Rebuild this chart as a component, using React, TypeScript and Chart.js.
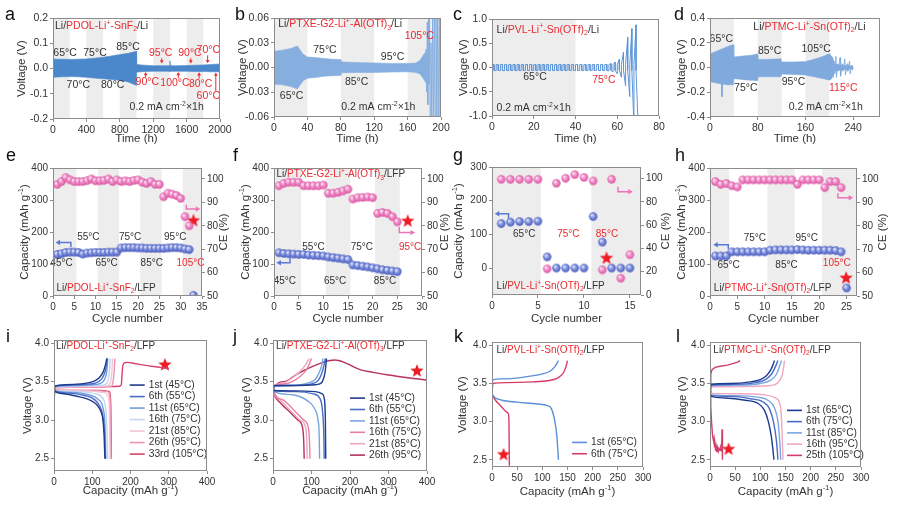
import React, { useEffect, useRef } from "react";
import { Chart, registerables } from "chart.js";

Chart.register(...registerables);

const FONT = "'Liberation Sans', Arial, Helvetica, sans-serif";
const INK = "#333333";
const RED = "#ea2a30";
const AXIS = "#8c8c8c";
const BAND = "#ededed";
const ARROW_BLUE = "#5b78d5";
const ARROW_PINK = "#ee74b8";
const ML = 52, MT = 12, MR = 46, MB = 34;

/* ---------------- panel a : Li/PDOL-Li+-SnF2/Li ---------------- */
const aTime = [0, 50, 100, 200, 300, 400, 500, 600, 700, 800, 900, 950, 1000, 1001, 1050, 1100, 1200, 1300, 1390, 1400, 1410, 1500, 1600, 1700, 1800, 1900, 2000];
const aUpper = [0.038, 0.037, 0.037, 0.036, 0.037, 0.038, 0.041, 0.045, 0.05, 0.055, 0.06, 0.064, 0.068, 0.017, 0.014, 0.013, 0.011, 0.011, 0.011, 0.03, 0.011, 0.011, 0.012, 0.013, 0.014, 0.016, 0.018];
const aLower = [-0.035, -0.034, -0.033, -0.032, -0.033, -0.035, -0.038, -0.041, -0.044, -0.047, -0.053, -0.06, -0.067, -0.015, -0.013, -0.012, -0.011, -0.011, -0.011, -0.012, -0.011, -0.011, -0.011, -0.012, -0.012, -0.013, -0.013];
const aBands = [[0, 200], [400, 600], [800, 1000], [1200, 1400], [1600, 1800]];

/* ---------------- panel b : Li/PTXE-G2-Li+-Al(OTf)3/Li ---------------- */
const bTime = [0, 10, 20, 28, 30, 35, 40, 50, 60, 70, 80, 81, 100, 120, 140, 160, 170, 175, 180, 183];
const bUpper = [0.0196, 0.021, 0.023, 0.026, 0.023, 0.016, 0.0128, 0.012, 0.011, 0.01, 0.0096, 0.0068, 0.006, 0.0056, 0.005, 0.0048, 0.0055, 0.0088, 0.017, 0.02];
const bLower = [-0.0204, -0.021, -0.023, -0.026, -0.023, -0.016, -0.013, -0.012, -0.0105, -0.01, -0.0096, -0.0064, -0.006, -0.006, -0.0055, -0.0052, -0.006, -0.008, -0.015, -0.02];
const bSpikeT = [180, 181, 182, 183, 183.6, 184.2, 185, 185.6, 186.2, 187, 188, 189, 190, 191, 192, 193, 194, 195, 196, 197, 198, 199, 200];
const bSpikeV = [0.015, -0.016, 0.022, -0.03, 0.055, -0.045, 0.07, -0.02, 0.07, -0.07, 0.03, -0.07, 0.07, -0.07, 0.07, -0.07, 0.07, -0.07, 0.07, -0.07, 0.07, -0.07, 0.07];
const bBands = [[0, 40], [80, 120], [160, 200]];

/* ---------------- panel c : Li/PVL-Li+-Sn(OTf)2/Li (peak values per 2 h cycle) ---------------- */
const cUp = [0.06, 0.06, 0.06, 0.06, 0.06, 0.06, 0.06, 0.06, 0.06, 0.06, 0.06, 0.06, 0.06, 0.06, 0.06, 0.06, 0.06, 0.06, 0.06, 0.06, 0.06, 0.06, 0.06, 0.06, 0.06, 0.06, 0.06, 0.065, 0.08, 0.11, 0.17, 0.32, 0.62, 0.8, 0.88];
const cDown = [-0.065, -0.065, -0.065, -0.065, -0.065, -0.065, -0.065, -0.065, -0.065, -0.065, -0.065, -0.065, -0.065, -0.065, -0.065, -0.065, -0.065, -0.065, -0.065, -0.065, -0.065, -0.065, -0.065, -0.065, -0.065, -0.065, -0.065, -0.07, -0.09, -0.13, -0.2, -0.38, -0.6, -1.2, -1.2];
const cBase = 0.06;
const cBands = [[0, 40]];

/* ---------------- panel d : Li/PTMC-Li+-Sn(OTf)2/Li ---------------- */
const dTime = [0, 5, 10, 15, 20, 25, 30, 35, 39, 40, 41, 50, 60, 70, 79, 80, 81, 90, 100, 110, 119, 120, 121, 130, 140, 150, 159, 160, 161, 170, 180, 190, 199, 200, 201, 220, 240];
const dUpper = [0.112, 0.12, 0.13, 0.14, 0.15, 0.16, 0.17, 0.18, 0.184, 0.085, 0.085, 0.09, 0.095, 0.1, 0.11, 0.112, 0.065, 0.065, 0.066, 0.068, 0.07, 0.045, 0.045, 0.045, 0.045, 0.046, 0.048, 0.045, 0.05, 0.06, 0.075, 0.09, 0.11, 0.112, 0.03, 0.02, 0.01];
const dLower = [-0.115, -0.12, -0.125, -0.13, -0.133, -0.137, -0.14, -0.14, -0.141, -0.088, -0.09, -0.095, -0.1, -0.103, -0.107, -0.107, -0.075, -0.075, -0.075, -0.075, -0.075, -0.053, -0.053, -0.055, -0.056, -0.058, -0.06, -0.06, -0.062, -0.07, -0.08, -0.09, -0.1, -0.1, -0.03, -0.02, -0.01];
const dSpikeT = [19.5, 20, 20.5];
const dSpikeV = [-0.13, -0.235, -0.13];
const dTailT = [200, 200.5, 201, 201.5, 202, 202.5, 203, 203.5, 204, 204.5, 205, 205.5, 206, 206.5, 207, 208, 209, 210, 211, 212, 214, 215, 218, 219, 222, 223, 226, 227, 230, 231, 234, 235, 238, 239, 240];
const dTailV = [0.1, -0.1, 0.09, -0.1, 0.1, -0.09, 0.08, -0.09, 0.09, -0.08, 0.08, -0.07, 0.07, -0.08, 0.06, -0.05, 0.05, -0.04, 0.09, -0.08, 0.03, -0.03, 0.08, -0.07, 0.03, -0.03, 0.07, -0.06, 0.03, -0.03, 0.05, -0.05, 0.02, -0.02, 0];
const dBands = [[0, 40], [80, 120], [160, 200]];

/* ---------------- panels e-h : capacity (left) and CE (right) per cycle ---------------- */
const eCap = [130, 132, 136, 137, 137, 136, 131, 134, 135, 136, 136, 136, 137, 137, 137, 150, 151, 151, 151, 150, 150, 149, 149, 149, 149, 149, 150, 151, 151, 150, 147, 145, 2];
const eCE = [97.7, 98.9, 100.6, 99.6, 98.9, 98.9, 98.9, 99.3, 100, 99.2, 99.2, 99.4, 100, 98.9, 99.6, 98.9, 99.2, 98.9, 99.4, 99.6, 98.6, 98.1, 98.9, 97.7, 97.7, 92.4, 93.9, 93.5, 92.9, 91.7, 83.9, 80];
const eStar = [33, 82.6];
const eBands = [[0, 5.5], [10.5, 15.5], [20.5, 25.5], [30.5, 35]];

const fCap = [135, 133, 132, 131, 130, 130, 128, 127, 126, 125, 122, 120, 118, 116, 114, 97, 95, 93, 91, 88, 85, 82, 80, 78, 76];
const fCE = [97.1, 98.1, 98.6, 98.6, 98.6, 97.1, 97.1, 97.1, 97.1, 97.4, 93.9, 93.9, 94.3, 94.9, 95.6, 91.4, 92, 92.1, 92.3, 92, 85.3, 85.7, 85.3, 83.9, 81.7];
const fStar = [27.1, 82.4];
const fBands = [[0, 5.5], [10.5, 15.5], [20.5, 25.5]];

const gCap = [132, 136, 138, 138, 139, 33, 0, 0, 0, 0, 153, 77, 0, 0, 0];
const gCE = [99.4, 99.4, 99.4, 99.4, 99.4, 22.5, 96, 100.3, 103.5, 101, 98, 21.6, 99.4, 14.4, 34.6];
const gStar = [12.45, 32];
const gBands = [[0, 5.3], [10.8, 16.2]];

const hCap = [125, 125, 125, 138, 138, 138, 138, 138, 138, 138, 143, 144, 144, 144, 144, 145, 144, 143, 143, 143, 143, 143, 142, 138, 25];
const hCE = [98.9, 97.7, 98.1, 97.1, 96.6, 99.6, 99.6, 99.6, 99.6, 99.6, 99.6, 99.6, 99.6, 99.6, 99.6, 97.7, 99.6, 99.6, 99.6, 99.6, 96.3, 98.9, 98.9, 96.3];
const hStar = [24.9, 59];
const hBands = [[0, 3.5], [10.5, 15.5], [20.5, 27]];

/* ---------------- panels i-l : charge / discharge profiles [capacity, voltage] ---------------- */
const iC1 = [[0, 3.0], [1.5, 3.44], [30, 3.46], [70, 3.47], [95, 3.49], [110, 3.52], [120, 3.56], [128, 3.62], [133, 3.69], [136, 3.75], [138, 3.8]];
const iC6 = [[0, 3.0], [1.5, 3.44], [40, 3.455], [85, 3.465], [108, 3.48], [120, 3.51], [128, 3.56], [134, 3.64], [137, 3.72], [139, 3.8]];
const iC11 = [[0, 3.0], [1.5, 3.435], [50, 3.45], [100, 3.46], [120, 3.475], [130, 3.51], [136, 3.58], [139, 3.68], [140.5, 3.8]];
const iC16 = [[0, 3.0], [1.5, 3.43], [60, 3.44], [120, 3.45], [136, 3.47], [142, 3.53], [145, 3.63], [147, 3.8]];
const iC21 = [[0, 3.0], [1.5, 3.43], [80, 3.435], [140, 3.445], [148, 3.5], [151, 3.6], [153, 3.8]];
const iC26 = [[0, 3.0], [1.5, 3.425], [100, 3.43], [150, 3.44], [155, 3.52], [157.5, 3.65], [159, 3.8]];
const iC33 = [[0, 3.0], [1.5, 3.42], [100, 3.43], [170, 3.44], [176, 3.46], [178, 3.6], [180, 3.71], [185, 3.745], [192, 3.75], [210, 3.735], [240, 3.71], [270, 3.69], [300, 3.67]];
const iD1 = [[0, 3.41], [3, 3.37], [30, 3.34], [60, 3.31], [90, 3.27], [110, 3.21], [122, 3.12], [128, 3.0], [131, 2.8], [133, 2.5]];
const iD6 = [[0, 3.41], [3, 3.375], [40, 3.35], [80, 3.32], [105, 3.27], [120, 3.18], [128, 3.05], [132, 2.85], [134.5, 2.5]];
const iD11 = [[0, 3.41], [3, 3.38], [50, 3.36], [90, 3.33], [115, 3.27], [128, 3.16], [133, 2.95], [135.5, 2.5]];
const iD16 = [[0, 3.41], [3, 3.385], [60, 3.37], [110, 3.34], [128, 3.28], [136, 3.1], [139, 2.8], [140.5, 2.5]];
const iD21 = [[0, 3.41], [3, 3.39], [80, 3.38], [130, 3.36], [142, 3.3], [145, 3.1], [146.5, 2.5]];
const iD26 = [[0, 3.41], [3, 3.39], [100, 3.385], [140, 3.37], [146, 3.3], [148, 3.0], [149, 2.5]];
const iD33 = [[0, 3.41], [3, 3.39], [120, 3.385], [145, 3.37], [148, 3.25], [149.5, 2.8], [150, 2.5]];
const iLabels = ["1st (45°C)", "6th (55°C)", "11st (65°C)", "16th (75°C)", "21st (85°C)", "26th (95°C)", "33rd (105°C)"];
const iColors = ["#1f3b8f", "#4a6cc4", "#6f9bdc", "#c4d6f0", "#f4c6d5", "#ee93b4", "#d8426b"];
const iStar = [290, 3.73];

const jC1 = [[0, 3.0], [1.5, 3.45], [60, 3.45], [110, 3.46], [125, 3.48], [132, 3.55], [136, 3.65], [139, 3.8]];
const jC6 = [[0, 3.0], [1.5, 3.445], [50, 3.45], [100, 3.47], [118, 3.52], [126, 3.6], [132, 3.7], [136, 3.8]];
const jC11 = [[0, 3.0], [1.5, 3.44], [40, 3.45], [90, 3.48], [110, 3.53], [120, 3.62], [126, 3.7], [130, 3.8]];
const jC16 = [[0, 3.0], [2, 3.44], [30, 3.47], [60, 3.53], [80, 3.61], [92, 3.7], [100, 3.8]];
const jC21 = [[0, 3.0], [2, 3.44], [25, 3.48], [50, 3.55], [70, 3.63], [85, 3.72], [94, 3.8]];
const jC26 = [[0, 3.0], [2, 3.42], [30, 3.5], [60, 3.59], [100, 3.69], [130, 3.75], [160, 3.78], [185, 3.75], [210, 3.69], [230, 3.65], [260, 3.62], [300, 3.585], [350, 3.55], [400, 3.52]];
const jD1 = [[0, 3.41], [3, 3.385], [60, 3.38], [110, 3.37], [128, 3.34], [134, 3.25], [136, 3.0], [137, 2.5]];
const jD6 = [[0, 3.41], [3, 3.38], [60, 3.37], [105, 3.34], [122, 3.28], [129, 3.1], [132, 2.8], [133, 2.5]];
const jD11 = [[0, 3.41], [3, 3.37], [50, 3.33], [90, 3.25], [108, 3.15], [117, 3.0], [120, 2.8], [121, 2.5]];
const jD16 = [[0, 3.41], [3, 3.35], [30, 3.25], [60, 3.1], [80, 3.0], [92, 2.9], [95, 2.7], [96, 2.5]];
const jD21 = [[0, 3.41], [3, 3.35], [25, 3.23], [50, 3.1], [70, 3.0], [85, 2.9], [88, 2.7], [89, 2.5]];
const jD26 = [[0, 3.41], [3, 3.34], [20, 3.22], [45, 3.1], [65, 3.0], [77, 2.9], [80, 2.7], [81, 2.5]];
const jLabels = ["1st (45°C)", "6th (55°C)", "11st (65°C)", "16th (75°C)", "21st (85°C)", "26th (95°C)"];
const jColors = ["#1f3b8f", "#4a6cc4", "#7aa6e0", "#e8809f", "#eca7c0", "#b5325d"];
const jStar = [374, 3.65];

const kC1 = [[0, 3.33], [1.5, 3.55], [20, 3.56], [60, 3.58], [100, 3.625], [115, 3.66], [125, 3.72], [132, 3.8]];
const kD1 = [[0, 3.36], [5, 3.32], [20, 3.28], [50, 3.255], [90, 3.23], [110, 3.21], [118, 3.17], [125, 3.0], [129, 2.8], [132, 2.5]];
const kC6 = [[0, 3.33], [1.5, 3.5], [30, 3.51], [80, 3.52], [110, 3.535], [130, 3.57], [142, 3.64], [147, 3.72], [150, 3.8]];
const kD6 = [[0, 3.36], [3, 3.32], [8, 3.27], [15, 3.22], [22, 3.17], [28, 3.13], [32, 3.11], [33.5, 3.05], [34, 2.8], [34.5, 2.42]];
const kLabels = ["1st (65°C)", "6th (75°C)"];
const kColors = ["#5b8fd9", "#d63c66"];
const kStar = [23, 2.58];

const lC1 = [[0, 3.33], [1.5, 3.49], [40, 3.5], [80, 3.52], [100, 3.55], [112, 3.6], [120, 3.67], [125, 3.74], [128, 3.8]];
const lC6 = [[0, 3.33], [1.5, 3.48], [50, 3.49], [90, 3.51], [110, 3.55], [122, 3.62], [130, 3.72], [135, 3.8]];
const lC11 = [[0, 3.33], [1.5, 3.47], [60, 3.48], [100, 3.5], [120, 3.54], [132, 3.62], [138, 3.72], [142, 3.8]];
const lC16 = [[0, 3.33], [1.5, 3.455], [70, 3.46], [115, 3.47], [135, 3.51], [143, 3.6], [146, 3.7], [148, 3.8]];
const lC25 = [[0, 3.35], [1.5, 3.62], [4, 3.68], [10, 3.71], [20, 3.725], [35, 3.74], [45, 3.76], [55, 3.78], [60, 3.8]];
const lD1 = [[0, 3.36], [3, 3.33], [30, 3.31], [70, 3.28], [95, 3.24], [108, 3.15], [116, 3.0], [122, 2.8], [125.5, 2.6], [127, 2.5]];
const lD6 = [[0, 3.37], [3, 3.34], [40, 3.33], [80, 3.3], [105, 3.26], [118, 3.17], [126, 3.0], [132, 2.75], [135, 2.5]];
const lD11 = [[0, 3.37], [3, 3.35], [50, 3.34], [95, 3.32], [115, 3.28], [128, 3.18], [135, 3.0], [139, 2.7], [140.5, 2.5]];
const lD16 = [[0, 3.38], [3, 3.37], [60, 3.365], [110, 3.35], [130, 3.31], [140, 3.2], [143, 2.9], [145, 2.5]];
const lD25 = [[0, 3.4], [1.5, 3.2], [3, 3.0], [5, 2.82], [7, 2.75], [8, 2.78], [9, 2.66], [10, 2.72], [11, 2.62], [12, 2.68], [13.5, 2.6], [15, 2.66], [16.5, 2.61], [18, 2.65], [20, 2.62], [21.5, 2.66], [23, 2.63], [24, 2.9], [24.6, 2.6], [25, 2.5]];
const lLabels = ["1st (65°C)", "6th (75°C)", "11st (85°C)", "16th (95°C)", "25th (105°C)"];
const lColors = ["#1f3b8f", "#4a6cc4", "#7aa6e0", "#f0a7c0", "#d23f68"];
const lStar = [37, 2.65];

/* ---------------- text helpers ---------------- */
type Seg = { t: string; c: string; k?: "sup" | "sub" };
const K = (t: string): Seg => ({ t, c: INK });
const R = (t: string): Seg => ({ t, c: RED });
const KS = (t: string): Seg => ({ t, c: INK, k: "sup" });
const RS = (t: string): Seg => ({ t, c: RED, k: "sup" });
const RB = (t: string): Seg => ({ t, c: RED, k: "sub" });

const cellTitle = (poly: string, salt: Seg[], end: string): Seg[] => [K("Li/"), R(poly), RS("+"), ...salt, K(end)];
const SNF2 = [R("-SnF"), RB("2")];
const ALOTF3 = [R("-Al(OTf)"), RB("3")];
const SNOTF2 = [R("-Sn(OTf)"), RB("2")];
const CURRENT: Seg[] = [K("0.2 mA cm"), KS("-2"), K("×1h")];
const CAP_TITLE: Seg[] = [K("Capacity (mAh g"), KS("-1"), K(")")];

function fontOf(s: Seg, size: number) {
  return `${s.k ? size * 0.66 : size}px ${FONT}`;
}

function drawRich(ctx: CanvasRenderingContext2D, segs: Seg[], x: number, y: number, align: string, size: number, rot = 0) {
  ctx.save();
  ctx.translate(x, y);
  if (rot) ctx.rotate(rot);
  ctx.textBaseline = "middle";
  ctx.textAlign = "left";
  const widths = segs.map((s) => {
    ctx.font = fontOf(s, size);
    return ctx.measureText(s.t).width;
  });
  const total = widths.reduce((a, b) => a + b, 0);
  let cx = align === "center" ? -total / 2 : align === "right" ? -total : 0;
  segs.forEach((s, i) => {
    ctx.font = fontOf(s, size);
    ctx.fillStyle = s.c;
    const dy = s.k === "sup" ? -size * 0.33 : s.k === "sub" ? size * 0.3 : 0;
    ctx.fillText(s.t, cx, dy);
    cx += widths[i];
  });
  ctx.restore();
}

function drawArrow(ctx: CanvasRenderingContext2D, pts: number[][], color: string, head: number, lw: number) {
  ctx.save();
  ctx.strokeStyle = color;
  ctx.fillStyle = color;
  ctx.lineWidth = lw;
  const n = pts.length;
  const [x1, y1] = pts[n - 1];
  const [x0, y0] = pts[n - 2];
  const len = Math.hypot(x1 - x0, y1 - y0) || 1;
  const ux = (x1 - x0) / len, uy = (y1 - y0) / len;
  ctx.beginPath();
  ctx.moveTo(pts[0][0], pts[0][1]);
  for (let i = 1; i < n - 1; i++) ctx.lineTo(pts[i][0], pts[i][1]);
  ctx.lineTo(x1 - ux * head * 0.8, y1 - uy * head * 0.8);
  ctx.stroke();
  ctx.beginPath();
  ctx.moveTo(x1, y1);
  ctx.lineTo(x1 - ux * head - uy * head * 0.6, y1 - uy * head + ux * head * 0.6);
  ctx.lineTo(x1 - ux * head + uy * head * 0.6, y1 - uy * head - ux * head * 0.6);
  ctx.closePath();
  ctx.fill();
  ctx.restore();
}

/* ---------------- marker images ---------------- */
function makeSphere(c0: string, c1: string, c2: string, r: number) {
  const cv = document.createElement("canvas");
  const s = Math.ceil(r * 2 + 2);
  cv.width = s;
  cv.height = s;
  const g = cv.getContext("2d")!;
  const c = s / 2;
  const grad = g.createRadialGradient(c - r * 0.35, c - r * 0.4, r * 0.1, c, c, r);
  grad.addColorStop(0, c0);
  grad.addColorStop(0.45, c1);
  grad.addColorStop(1, c2);
  g.fillStyle = grad;
  g.beginPath();
  g.arc(c, c, r, 0, Math.PI * 2);
  g.fill();
  return cv;
}
function makeStar(r: number, color: string) {
  const cv = document.createElement("canvas");
  const s = Math.ceil(r * 2 + 2);
  cv.width = s;
  cv.height = s;
  const g = cv.getContext("2d")!;
  const c = s / 2;
  g.fillStyle = color;
  g.beginPath();
  for (let i = 0; i < 10; i++) {
    const rr = i % 2 === 0 ? r : r * 0.42;
    const a = -Math.PI / 2 + (i * Math.PI) / 5;
    const px = c + rr * Math.cos(a), py = c + 1 + rr * Math.sin(a);
    if (i === 0) g.moveTo(px, py);
    else g.lineTo(px, py);
  }
  g.closePath();
  g.fill();
  return cv;
}
let IMGS: any = null;
function getImgs() {
  if (!IMGS) {
    IMGS = {
      blue: makeSphere("#e2e7fb", "#8797e2", "#4457b9", 4.2),
      pink: makeSphere("#fde6f2", "#f290cc", "#d9569f", 4.2),
      star: makeStar(7, "#ee1c24"),
    };
  }
  return IMGS;
}

/* ---------------- dataset helpers ---------------- */
const zip = (xs: number[], ys: number[]) => xs.map((x, i) => ({ x, y: ys[i] }));
const pairs = (arr: number[][]) => arr.map(([x, y]) => ({ x, y }));
const perCycle = (ys: number[]) => ys.map((y, i) => ({ x: i + 1, y }));

// one charge half (rising to the read peak) and one discharge half per 2 h cycle
function cycleTrace(up: number[], down: number[], half: number, base: number) {
  const out: { x: number; y: number }[] = [];
  up.forEach((u, n) => {
    const t0 = n * 2 * half;
    out.push({ x: t0, y: Math.min(u, base) }, { x: t0 + half, y: u }, { x: t0 + half, y: Math.max(down[n], -base) }, { x: t0 + 2 * half, y: down[n] });
  });
  return out;
}
const envelope = (t: number[], up: number[], lo: number[], color: string) => [
  { data: zip(t, up), borderColor: color, backgroundColor: color, borderWidth: 0.6, pointRadius: 0, fill: "+1" },
  { data: zip(t, lo), borderColor: color, backgroundColor: color, borderWidth: 0.6, pointRadius: 0, fill: false },
];
const thin = (data: any[], color: string, width = 0.9) => ({ data, borderColor: color, borderWidth: width, pointRadius: 0, fill: false, tension: 0 });
const curve = (data: number[][], color: string, mono = true) => ({
  data: pairs(data), borderColor: color, borderWidth: 1.4, pointRadius: 0, fill: false,
  cubicInterpolationMode: mono ? "monotone" : "default", tension: 0,
});
const balls = (data: any[], img: any, axis: string) => ({ data, yAxisID: axis, showLine: false, pointStyle: img, pointRadius: 4.2, borderWidth: 0 });
const star = (pt: number[], img: any, axis = "y") => ({ data: [{ x: pt[0], y: pt[1] }], yAxisID: axis, showLine: false, pointStyle: img, pointRadius: 7, borderWidth: 0 });

/* ---------------- panel configuration ---------------- */
type AxisCfg = { min: number; max: number; step: number; dec?: number };
type Note = { x: number; y: number; ax?: string; segs: Seg[]; align?: string; size?: number };
type Arrow = { pts: number[][]; ax?: string; color: string; head?: number; lw?: number };
type Panel = {
  id: string; plot: number[]; x: AxisCfg; y: AxisCfg; y1?: AxisCfg; tick?: number; noteSize?: number;
  xTitle: Seg[]; xTitleY: number; yTitle: Seg[]; yTitleX: number; y1Title?: Seg[]; y1TitleX?: number;
  bands?: number[][]; datasets: (im: any) => any[]; notes?: Note[]; arrows?: Arrow[];
  legend?: { x: number; y: number; labels: string[]; colors: string[]; row: number };
};
const T = (x: number, y: number, s: string, ax = "y"): Note => ({ x, y, ax, segs: [K(s)] });
const TR = (x: number, y: number, s: string, ax = "y"): Note => ({ x, y, ax, segs: [R(s)] });
const redArrow = (x: number, y0: number, y1: number): Arrow => ({ pts: [[x, y0], [x, y1]], color: RED, head: 3.2, lw: 1 });

const profileSets = (ch: number[][][], dis: number[][][], colors: string[], st: number[], noisy = -1) => (im: any) => {
  const out: any[] = [];
  ch.forEach((c, i) => {
    out.push(curve(c, colors[i], i !== noisy));
    out.push(curve(dis[i], colors[i], i !== noisy));
  });
  out.push(star(st, im.star));
  return out;
};

const PANELS: Panel[] = [
  {
    id: "a", plot: [53, 18, 220, 119], tick: 10.5,
    x: { min: 0, max: 2000, step: 400 }, y: { min: -0.2, max: 0.2, step: 0.1, dec: 1 },
    xTitle: [K("Time (h)")], xTitleY: 139, yTitle: [K("Voltage (V)")], yTitleX: 22,
    bands: aBands,
    datasets: () => envelope(aTime, aUpper, aLower, "#4b88cb"),
    notes: [
      { x: 24, y: 0.167, segs: cellTitle("PDOL-Li", SNF2, "/Li"), align: "left" },
      T(144, 0.0615, "65°C"), T(503, 0.0615, "75°C"), T(898, 0.085, "85°C"), T(303, -0.064, "70°C"), T(715, -0.066, "80°C"),
      TR(1290, 0.059, "95°C"), TR(1640, 0.059, "90°C"), TR(1860, 0.0717, "70°C"),
      TR(1130, -0.054, "90°C"), TR(1461, -0.058, "100°C"), TR(1768, -0.061, "80°C"), TR(1860, -0.108, "60°C"),
      { x: 1361, y: -0.154, segs: CURRENT },
    ],
    arrows: [
      redArrow(1302, 0.041, 0.02), redArrow(1650, 0.041, 0.02), redArrow(1852, 0.052, 0.021),
      redArrow(1110, -0.035, -0.014), redArrow(1500, -0.038, -0.014), redArrow(1750, -0.04, -0.015), redArrow(1950, -0.09, -0.016),
    ],
  },
  {
    id: "b", plot: [274, 18, 441, 117], tick: 10.5,
    x: { min: 0, max: 200, step: 40 }, y: { min: -0.06, max: 0.06, step: 0.03, dec: 2 },
    xTitle: [K("Time (h)")], xTitleY: 139, yTitle: [K("Voltage (V)")], yTitleX: 243,
    bands: bBands,
    datasets: () => [...envelope(bTime, bUpper, bLower, "#86afe0"), thin(zip(bSpikeT, bSpikeV), "#86afe0", 1)],
    notes: [
      { x: 5, y: 0.052, segs: cellTitle("PTXE-G2-Li", ALOTF3, "/Li"), align: "left" },
      T(21, -0.035, "65°C"), T(61, 0.0207, "75°C"), T(99, -0.0176, "85°C"), T(142, 0.0124, "95°C"), TR(174, 0.0384, "105°C"),
      { x: 125, y: -0.048, segs: CURRENT },
    ],
  },
  {
    id: "c", plot: [492, 19, 659, 116], tick: 10.5,
    x: { min: 0, max: 80, step: 20 }, y: { min: -1, max: 1, step: 0.5, dec: 1 },
    xTitle: [K("Time (h)")], xTitleY: 139, yTitle: [K("Voltage (V)")], yTitleX: 464,
    bands: cBands,
    datasets: () => [thin(cycleTrace(cUp, cDown, 1, cBase), "#5d95d8", 1)],
    notes: [
      { x: 2.2, y: 0.78, segs: cellTitle("PVL-Li", SNOTF2, "/Li"), align: "left" },
      T(20.6, -0.19, "65°C"), TR(53.6, -0.26, "75°C"),
      { x: 2.2, y: -0.84, segs: CURRENT, align: "left" },
    ],
  },
  {
    id: "d", plot: [710, 18, 880, 117], tick: 10.5,
    x: { min: 0, max: 285, step: 80 }, y: { min: -0.4, max: 0.4, step: 0.2, dec: 1 },
    xTitle: [K("Time (h)")], xTitleY: 139, yTitle: [K("Voltage (V)")], yTitleX: 682,
    bands: dBands,
    datasets: () => [...envelope(dTime, dUpper, dLower, "#80a9dd"), thin(zip(dSpikeT, dSpikeV), "#80a9dd", 1), thin(zip(dTailT, dTailV), "#80a9dd", 0.9)],
    notes: [
      { x: 72.6, y: 0.325, segs: cellTitle("PTMC-Li", SNOTF2, "/Li"), align: "left" },
      T(19, 0.23, "65°C"), T(60, -0.17, "75°C"), T(100, 0.13, "85°C"), T(140, -0.12, "95°C"), T(178, 0.152, "105°C"), TR(223.5, -0.163, "115°C"),
      { x: 194, y: -0.32, segs: CURRENT },
    ],
  },
  {
    id: "e", plot: [53, 168, 202, 296], noteSize: 10,
    x: { min: 0, max: 35, step: 5 }, y: { min: 0, max: 400, step: 100 }, y1: { min: 50, max: 104.7, step: 10 },
    xTitle: [K("Cycle number")], xTitleY: 319, yTitle: CAP_TITLE, yTitleX: 25, y1Title: [K("CE (%)")], y1TitleX: 224,
    bands: eBands,
    datasets: (im) => [balls(perCycle(eCap), im.blue, "y"), balls(perCycle(eCE), im.pink, "y1"), star(eStar, im.star, "y1")],
    notes: [
      T(8.3, 184, "55°C"), T(18.1, 184, "75°C"), T(28.7, 184, "95°C"),
      T(2, 101, "45°C"), T(12.6, 101, "65°C"), T(23.2, 101, "85°C"), TR(32.3, 101, "105°C"),
      { x: 0.8, y: 25, segs: cellTitle("PDOL-Li", SNF2, "/LFP"), align: "left" },
    ],
    arrows: [
      { pts: [[4.2, 153], [4.2, 167], [0.6, 167]], color: ARROW_BLUE, head: 4.5, lw: 1.5 },
      { pts: [[31.3, 89], [31.3, 87.2], [34.6, 87.2]], ax: "y1", color: ARROW_PINK, head: 4.5, lw: 1.5 },
    ],
  },
  {
    id: "f", plot: [274, 168, 422, 296], noteSize: 10,
    x: { min: 0, max: 30, step: 5 }, y: { min: 0, max: 400, step: 100 }, y1: { min: 50, max: 104.7, step: 10 },
    xTitle: [K("Cycle number")], xTitleY: 319, yTitle: CAP_TITLE, yTitleX: 246, y1Title: [K("CE (%)")], y1TitleX: 445,
    bands: fBands,
    datasets: (im) => [balls(perCycle(fCap), im.blue, "y"), balls(perCycle(fCE), im.pink, "y1"), star(fStar, im.star, "y1")],
    notes: [
      { x: 0.5, y: 379, segs: cellTitle("PTXE-G2-Li", ALOTF3, "/LFP"), align: "left" },
      T(8, 153, "55°C"), T(17.8, 153, "75°C"), TR(27.6, 153, "95°C"),
      T(2.2, 46, "45°C"), T(12.4, 46, "65°C"), T(22.5, 46, "85°C"),
    ],
    arrows: [
      { pts: [[3.25, 122], [3.25, 104], [0.5, 104]], color: ARROW_BLUE, head: 4.5, lw: 1.5 },
      { pts: [[25.4, 79.6], [25.4, 77.1], [28.6, 77.1]], ax: "y1", color: ARROW_PINK, head: 4.5, lw: 1.5 },
    ],
  },
  {
    id: "g", plot: [492, 167, 641, 295], noteSize: 10,
    x: { min: 0, max: 16.2, step: 5 }, y: { min: -80, max: 300, step: 100 }, y1: { min: 0, max: 110, step: 20 },
    xTitle: [K("Cycle number")], xTitleY: 319, yTitle: CAP_TITLE, yTitleX: 459, y1Title: [K("CE (%)")], y1TitleX: 666,
    bands: gBands,
    datasets: (im) => [balls(perCycle(gCap), im.blue, "y"), balls(perCycle(gCE), im.pink, "y1"), star(gStar, im.star, "y")],
    notes: [
      T(3.5, 100, "65°C"), TR(8.3, 100, "75°C"), TR(12.5, 100, "85°C"),
      { x: 0.5, y: -55, segs: cellTitle("PVL-Li", SNOTF2, "/LFP"), align: "left" },
    ],
    arrows: [
      { pts: [[1.8, 146], [1.8, 161], [0.3, 161]], color: ARROW_BLUE, head: 4.5, lw: 1.5 },
      { pts: [[13.7, 93], [13.7, 88.8], [15.3, 88.8]], ax: "y1", color: ARROW_PINK, head: 4.5, lw: 1.5 },
    ],
  },
  {
    id: "h", plot: [710, 168, 857, 296], noteSize: 10,
    x: { min: 0, max: 26.9, step: 5 }, y: { min: 0, max: 400, step: 100 }, y1: { min: 50, max: 104.7, step: 10 },
    xTitle: [K("Cycle number")], xTitleY: 319, yTitle: CAP_TITLE, yTitleX: 682, y1Title: [K("CE (%)")], y1TitleX: 883,
    bands: hBands,
    datasets: (im) => [balls(perCycle(hCap), im.blue, "y"), balls(perCycle(hCE), im.pink, "y1"), star(hStar, im.star, "y")],
    notes: [
      T(8.2, 181, "75°C"), T(17.7, 181, "95°C"),
      T(3.4, 96, "65°C"), T(14, 96, "85°C"), TR(23.2, 101, "105°C"),
      { x: 0.7, y: 25, segs: cellTitle("PTMC-Li", SNOTF2, "/LFP"), align: "left" },
    ],
    arrows: [
      { pts: [[3.35, 148], [3.35, 160], [0.6, 160]], color: ARROW_BLUE, head: 4.5, lw: 1.5 },
      { pts: [[23.4, 93.9], [23.4, 92], [26.2, 92]], ax: "y1", color: ARROW_PINK, head: 4.5, lw: 1.5 },
    ],
  },
  {
    id: "i", plot: [54, 340, 207, 471], noteSize: 10,
    x: { min: 0, max: 400, step: 100 }, y: { min: 2.34, max: 4.04, step: 0.5, dec: 1 },
    xTitle: CAP_TITLE, xTitleY: 491, yTitle: [K("Voltage (V)")], yTitleX: 28,
    datasets: profileSets([iC1, iC6, iC11, iC16, iC21, iC26, iC33], [iD1, iD6, iD11, iD16, iD21, iD26, iD33], iColors, iStar),
    notes: [{ x: 5, y: 3.962, segs: cellTitle("PDOL-Li", SNF2, "/LFP"), align: "left" }],
    legend: { x: 198, y: 3.455, labels: iLabels, colors: iColors, row: 11.5 },
  },
  {
    id: "j", plot: [273, 340, 427, 471], noteSize: 10,
    x: { min: 0, max: 400, step: 100 }, y: { min: 2.34, max: 4.04, step: 0.5, dec: 1 },
    xTitle: CAP_TITLE, xTitleY: 491, yTitle: [K("Voltage (V)")], yTitleX: 247,
    datasets: profileSets([jC1, jC6, jC11, jC16, jC21, jC26], [jD1, jD6, jD11, jD16, jD21, jD26], jColors, jStar),
    notes: [{ x: 8, y: 3.96, segs: cellTitle("PTXE-G2-Li", ALOTF3, "/LFP"), align: "left" }],
    legend: { x: 200, y: 3.286, labels: jLabels, colors: jColors, row: 11.4 },
  },
  {
    id: "k", plot: [492, 342, 643, 467], noteSize: 10,
    x: { min: 0, max: 300, step: 50 }, y: { min: 2.405, max: 4.043, step: 0.5, dec: 1 },
    xTitle: CAP_TITLE, xTitleY: 492, yTitle: [K("Voltage (V)")], yTitleX: 463,
    datasets: profileSets([kC1, kC6], [kD1, kD6], kColors, kStar),
    notes: [{ x: 9, y: 3.934, segs: cellTitle("PVL-Li", SNOTF2, "/LFP"), align: "left" }],
    legend: { x: 159, y: 2.727, labels: kLabels, colors: kColors, row: 11.3 },
  },
  {
    id: "l", plot: [710, 342, 861, 467], noteSize: 10,
    x: { min: 0, max: 300, step: 50 }, y: { min: 2.405, max: 4.043, step: 0.5, dec: 1 },
    xTitle: CAP_TITLE, xTitleY: 492, yTitle: [K("Voltage (V)")], yTitleX: 683,
    datasets: profileSets([lC1, lC6, lC11, lC16, lC25], [lD1, lD6, lD11, lD16, lD25], lColors, lStar, 4),
    notes: [{ x: 6.6, y: 3.934, segs: cellTitle("PTMC-Li", SNOTF2, "/LFP"), align: "left" }],
    legend: { x: 153, y: 3.147, labels: lLabels, colors: lColors, row: 11.25 },
  },
];

const LETTERS: [string, number, number][] = [
  ["a", 5, 20], ["b", 235, 20], ["c", 453, 20], ["d", 674, 20],
  ["e", 6, 161], ["f", 233, 161], ["g", 453, 161], ["h", 675, 161],
  ["i", 6, 342], ["j", 233, 342], ["k", 454, 342], ["l", 676, 342],
];

/* ---------------- chart construction ---------------- */
function buildChart(cv: HTMLCanvasElement, p: Panel, cl: number, ct: number) {
  const im = getImgs();
  const tickSize = p.tick ?? 10;
  const noteSize = p.noteSize ?? 10.5;
  const mkAxis = (a: AxisCfg, pos: string) => ({
    type: "linear",
    position: pos,
    min: a.min,
    max: a.max,
    afterFit: (s: any) => {
      if (pos === "bottom") s.height = MB;
      else if (pos === "left") s.width = ML;
      else s.width = MR;
    },
    ticks: {
      stepSize: a.step, includeBounds: false, autoSkip: false, maxRotation: 0, minRotation: 0,
      color: INK, padding: 2, font: { family: FONT, size: tickSize },
      callback: (v: any) => Number(v).toFixed(a.dec ?? 0),
    },
    grid: { drawOnChartArea: false, drawTicks: true, tickLength: 3, color: AXIS },
    border: { display: false },
  });
  const scales: any = { x: mkAxis(p.x, "bottom"), y: mkAxis(p.y, "left") };
  if (p.y1) scales.y1 = mkAxis(p.y1, "right");

  const decor = {
    id: "decor",
    beforeDatasetsDraw(chart: any) {
      const { ctx, chartArea: ca, scales: sc } = chart;
      ctx.save();
      ctx.fillStyle = BAND;
      (p.bands || []).forEach(([x0, x1]) => {
        const a = Math.max(ca.left, sc.x.getPixelForValue(x0));
        const b = Math.min(ca.right, sc.x.getPixelForValue(x1));
        if (b > a) ctx.fillRect(a, ca.top, b - a, ca.bottom - ca.top);
      });
      ctx.restore();
    },
    afterDatasetsDraw(chart: any) {
      const { ctx, scales: sc } = chart;
      (p.arrows || []).forEach((ar) => {
        const sy = sc[ar.ax || "y"];
        const pts = ar.pts.map(([x, y]) => [sc.x.getPixelForValue(x), sy.getPixelForValue(y)]);
        drawArrow(ctx, pts, ar.color, ar.head ?? 4, ar.lw ?? 1.4);
      });
      (p.notes || []).forEach((n) => {
        const sy = sc[n.ax || "y"];
        drawRich(ctx, n.segs, sc.x.getPixelForValue(n.x), sy.getPixelForValue(n.y), n.align || "center", n.size ?? noteSize);
      });
      if (p.legend) {
        const lg = p.legend;
        const x0 = sc.x.getPixelForValue(lg.x);
        const y0 = sc.y.getPixelForValue(lg.y);
        lg.labels.forEach((lab, i) => {
          const y = y0 + i * lg.row;
          ctx.save();
          ctx.strokeStyle = lg.colors[i];
          ctx.lineWidth = 1.6;
          ctx.beginPath();
          ctx.moveTo(x0, y);
          ctx.lineTo(x0 + 15, y);
          ctx.stroke();
          ctx.restore();
          drawRich(ctx, [K(lab)], x0 + 19, y, "left", 10.2);
        });
      }
    },
    afterDraw(chart: any) {
      const { ctx, chartArea: ca } = chart;
      ctx.save();
      ctx.strokeStyle = AXIS;
      ctx.lineWidth = 1;
      ctx.strokeRect(ca.left + 0.5, ca.top + 0.5, ca.right - ca.left - 1, ca.bottom - ca.top - 1);
      ctx.restore();
      const midX = (ca.left + ca.right) / 2, midY = (ca.top + ca.bottom) / 2;
      drawRich(ctx, p.xTitle, midX, p.xTitleY - ct, "center", 11.5);
      drawRich(ctx, p.yTitle, p.yTitleX - cl, midY, "center", 11.5, -Math.PI / 2);
      if (p.y1Title && p.y1TitleX) drawRich(ctx, p.y1Title, p.y1TitleX - cl, midY, "center", 11.5, -Math.PI / 2);
    },
  };

  return new Chart(cv, {
    type: "line",
    data: { datasets: p.datasets(im) },
    options: {
      responsive: false,
      maintainAspectRatio: false,
      animation: false,
      events: [],
      layout: { padding: { left: 0, top: MT, right: p.y1 ? 0 : MR, bottom: 0 } },
      plugins: { legend: { display: false }, tooltip: { enabled: false } },
      scales,
    } as any,
    plugins: [decor as any],
  } as any);
}

function PanelView({ p }: { p: Panel }) {
  const ref = useRef<HTMLCanvasElement>(null);
  const [l, t, r, b] = p.plot;
  const cl = l - ML, ct = t - MT;
  const w = r - l + ML + MR, h = b - t + MT + MB;
  useEffect(() => {
    const chart = buildChart(ref.current!, p, cl, ct);
    return () => chart.destroy();
  }, []);
  return <canvas ref={ref} width={w} height={h} style={{ position: "absolute", left: cl, top: ct, width: w, height: h }} />;
}

export default function App() {
  return (
    <div style={{ position: "absolute", left: 0, top: 0, width: 900, height: 506, overflow: "hidden", background: "#ffffff", fontFamily: FONT }}>
      {PANELS.map((p) => (
        <PanelView key={p.id} p={p} />
      ))}
      {LETTERS.map(([s, x, y]) => (
        <div key={s} style={{ position: "absolute", left: x, top: y - 15.2, fontSize: 18, lineHeight: "18px", color: "#111", fontFamily: FONT }}>
          {s}
        </div>
      ))}
    </div>
  );
}
